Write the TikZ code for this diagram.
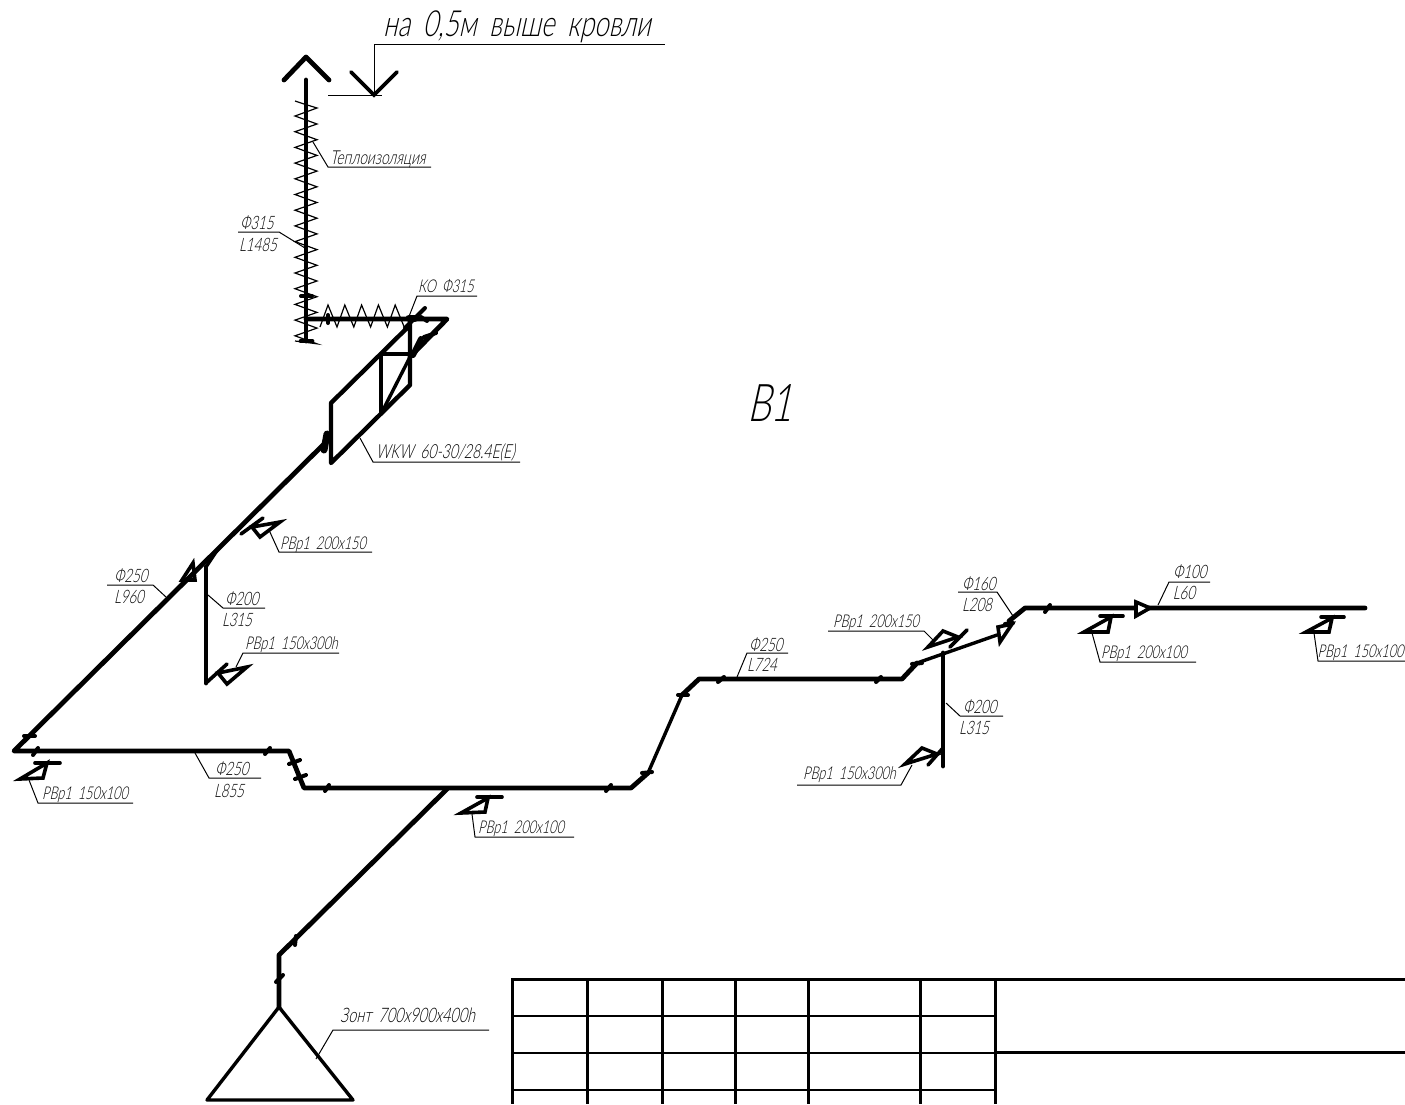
\documentclass[tikz,border=0pt]{standalone}
\usepackage{fontspec}
\setmainfont[FakeSlant=0.22,FakeStretch=0.72,WordSpace=1.8,UprightFont={* Light}]{Lato}
\tikzset{
  pipe/.style={line width=4.8pt, line cap=round, line join=round},
  thinpipe/.style={line width=3.4pt, line cap=round, line join=round},
  flange/.style={line width=4pt, line cap=round},
  damper/.style={line width=3.6pt, line join=miter, line cap=round},
  leader/.style={line width=1pt},
  zigzag/.style={line width=1.2pt, line join=miter},
  labeltext/.style={anchor=base west, inner sep=0pt, font=\fontsize{17.6}{18}\selectfont},
  sizetext/.style={anchor=base, inner sep=0pt, font=\fontsize{18.5}{19}\selectfont}
}
\begin{document}
\begin{tikzpicture}[x=1pt, y=-1pt]
\useasboundingbox (0,0) rectangle (1405,1104);
% riser with cap
\draw[pipe] (306,80) -- (306,341);
\draw[pipe] (284,80) -- (306,57) -- (329,80);
\draw[pipe] (301,341) -- (312,341);
\draw[zigzag] (295,101) -- (304,104) -- (317,108)
  \foreach \i in {0,...,14} { -- (295,{116+15.7*\i}) -- (317,{124+15.7*\i}) } -- (295,341);
\draw[zigzag] (320,327) \foreach \i in {0,...,4} { -- ({328+16.8*\i},305) -- ({337+16.8*\i},327) };
\draw[pipe] (306,319) -- (447,319) -- (410,357);
% fan box
\draw[thinpipe, line width=4.4pt] (410,325) -- (331,403) -- (331,463) -- (410,385) -- (410,319);
\draw[thinpipe, line width=4.4pt] (381,413) -- (381,354) -- (410,354);
\draw[thinpipe] (410,357) -- (383,410);
\draw[line width=6pt, line cap=round] (413,355) -- (421,339);
\draw[line width=7pt, line cap=round] (324,450) -- (327,434);
\draw[flange] (405,328) -- (425,308);
\draw[line width=7pt, line cap=round] (409,318) -- (415,318);
\draw[flange] (421,317) -- (427,321);
\draw[flange] (424,337) -- (436,333);
% main duct
\draw[pipe] (327,441) -- (14,751) -- (289,751) -- (304,788) -- (631,788) -- (648,773);
\draw[thinpipe] (648,773) -- (682,695);
\draw[pipe] (682,695) -- (699,679) -- (902,679) -- (917,663);
\draw[thinpipe] (917,663) -- (997,635);
\draw[pipe] (1009,621) -- (1025,608) -- (1365,608);
\draw[thinpipe] (218,549) -- (206,567);
\draw[pipe] (206,567) -- (206,683);
\draw[pipe] (943,653) -- (943,766);
\draw[pipe] (447,789) -- (279,955) -- (279,1007);
\draw[thinpipe] (279,1007) -- (207,1100) -- (353,1100) -- cycle;
% flanges
\draw[flange] (24,736) -- (35,736);
\draw[flange] (33,755) -- (38,748);
\draw[flange] (265,754) -- (270,748);
\draw[flange] (289,764) -- (300,760);
\draw[flange] (295,779) -- (306,775);
\draw[flange] (325,791) -- (329,785);
\draw[flange] (301,296) -- (312,296);
\draw[flange] (328,315) -- (328,323);
\draw[flange] (606,791) -- (611,785);
\draw[flange] (642,773) -- (652,772);
\draw[flange] (678,695) -- (688,695);
\draw[flange] (718,682) -- (724,677);
\draw[flange] (876,682) -- (881,677);
\draw[flange] (276,982) -- (283,975);
\draw[flange] (295,945) -- (296,936);
\draw[flange] (912,664) -- (922,663);
\draw[flange] (1005,624) -- (1013,623);
\draw[flange] (1045,612) -- (1050,605);
% dampers
\draw[damper] (241,534) -- (263,518);
\draw[damper] (252,527) -- (280,522) -- (260,537) -- cycle;
\draw[damper] (193,563) -- (182,580) -- (195,580) -- cycle;
\draw[damper] (206,683) -- (227,664);
\draw[damper] (218,673) -- (247,667) -- (227,684) -- cycle;
\draw[damper] (35,763) -- (60,763);
\draw[damper] (47,763) -- (20,779) -- (43,778) -- cycle;
\draw[damper] (477,797) -- (502,797);
\draw[damper] (488,798) -- (461,813) -- (485,812) -- cycle;
\draw[damper] (928,765) -- (943,748);
\draw[damper] (905,764) -- (922,748) -- (937,754) -- cycle;
\draw[damper] (950,647) -- (967,630);
\draw[damper] (928,647) -- (943,631) -- (958,637) -- cycle;
\draw[damper] (1100,616) -- (1123,616);
\draw[damper] (1111,617) -- (1084,632) -- (1108,632) -- cycle;
\draw[damper] (1321,617) -- (1344,617);
\draw[damper] (1332,618) -- (1306,632) -- (1329,632) -- cycle;
\draw[damper, fill=white] (1136,602) -- (1136,616) -- (1150,608) -- cycle;
\draw[damper, fill=white] (998,627) -- (1000,642) -- (1012,624) -- cycle;
% roof mark
\draw[leader] (374,95) -- (374,44) -- (665,44);
\draw[damper] (351,72) -- (374,95) -- (397,72);
\draw[leader] (328,95) -- (382,95);
\node[anchor=base west, inner sep=0pt, font=\fontsize{36}{36}\selectfont] (roofnote) at (383,36) {на 0,5м выше кровли};
\node[anchor=base west, inner sep=0pt, font=\fontsize{52}{52}\selectfont] (sysname) at (747,421) {В1};
% labels
\draw[leader] (313,142) -- (328,167) -- (431,167);
\node[labeltext, font=\fontsize{19.2}{19}\selectfont] (insul) at (330,164) {Теплоизоляция};
\draw[leader] (305,248) -- (279,232) -- (238,232);
\node[sizetext] (riserdia) at (257,229) {Ф315};
\node[sizetext] (riserlen) at (258,251) {L1485};
\draw[leader] (408,319) -- (417,296) -- (477,296);
\node[labeltext] (valve) at (418,292) {КО Ф315};
\draw[leader] (360,438) -- (373,462) -- (520,462);
\node[labeltext, font=\fontsize{19.4}{19}\selectfont] (fan) at (376,458) {WKW 60-30/28.4E(E)};
\draw[leader] (269,530) -- (279,552) -- (372,552);
\node[labeltext] (grilleA) at (280,549) {РВр1 200х150};
\draw[leader] (166,597) -- (153,585) -- (107,585);
\node[sizetext] (ductAdia) at (131,582) {Ф250};
\node[sizetext] (ductAlen) at (129,603) {L960};
\draw[leader] (208,595) -- (223,608) -- (265,608);
\node[sizetext] (ductBdia) at (242,605) {Ф200};
\node[sizetext] (ductBlen) at (237,626) {L315};
\draw[leader] (236,667) -- (243,653) -- (339,653);
\node[labeltext] (grilleB) at (245,649) {РВр1 150х300h};
\draw[leader] (29,780) -- (38,803) -- (133,803);
\node[labeltext] (grilleC) at (42,799) {РВр1 150х100};
\draw[leader] (195,753) -- (209,778) -- (261,778);
\node[sizetext] (ductCdia) at (232,775) {Ф250};
\node[sizetext] (ductClen) at (229,797) {L855};
\draw[leader] (472,814) -- (475,837) -- (574,837);
\node[labeltext] (grilleD) at (478,833) {РВр1 200х100};
\draw[leader] (316,1059) -- (333,1030) -- (489,1030);
\node[labeltext, font=\fontsize{20}{20}\selectfont] (hood) at (340,1022) {Зонт 700х900х400h};
\draw[leader] (737,677) -- (747,653) -- (788,653);
\node[sizetext] (ductDdia) at (766,651) {Ф250};
\node[sizetext] (ductDlen) at (762,671) {L724};
\draw[leader] (933,640) -- (924,631) -- (828,631);
\node[labeltext] (grilleE) at (833,627) {РВр1 200х150};
\draw[leader] (1013,616) -- (997,592) -- (958,592);
\node[sizetext] (ductEdia) at (979,590) {Ф160};
\node[sizetext] (ductElen) at (977,611) {L208};
\draw[leader] (1158,605) -- (1169,582) -- (1210,582);
\node[sizetext] (ductFdia) at (1190,578) {Ф100};
\node[sizetext] (ductFlen) at (1184,599) {L60};
\draw[leader] (946,703) -- (960,716) -- (1003,716);
\node[sizetext] (ductGdia) at (980,713) {Ф200};
\node[sizetext] (ductGlen) at (974,734) {L315};
\draw[leader] (912,765) -- (901,785) -- (797,785);
\node[labeltext] (grilleF) at (803,779) {РВр1 150х300h};
\draw[leader] (1092,633) -- (1100,662) -- (1196,662);
\node[labeltext] (grilleG) at (1101,658) {РВр1 200х100};
\draw[leader] (1314,633) -- (1318,661) -- (1405,661);
\node[labeltext] (grilleH) at (1317.5,657) {РВр1 150х100};
% title block
\foreach \x in {512,587,662,735,808,920,995} {
  \draw[line width=3pt] (\x,979) -- (\x,1104);
}
\draw[line width=3pt] (511,979) -- (1405,979);
\draw[line width=3pt] (995,1052) -- (1405,1052);
\foreach \y in {1016,1053,1090} {
  \draw[line width=1.4pt] (512,\y) -- (995,\y);
}
\end{tikzpicture}
\end{document}
